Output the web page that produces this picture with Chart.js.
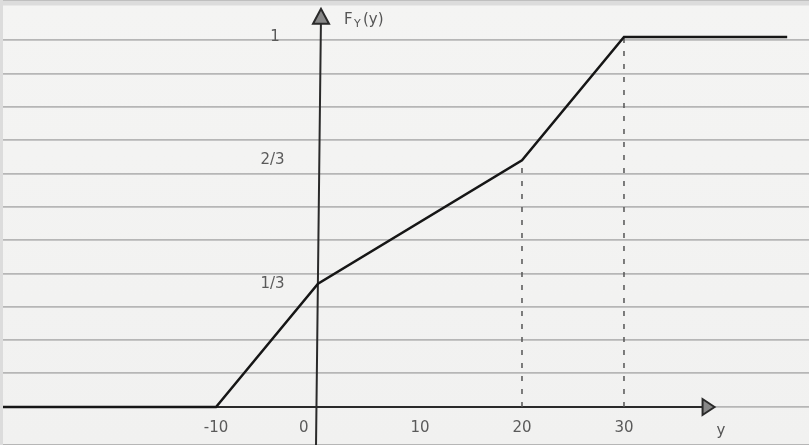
<!DOCTYPE html>
<html>
<head>
<meta charset="utf-8">
<script src="https://cdn.jsdelivr.net/npm/chart.js@4/dist/chart.umd.min.js"></script>
<style>
  html, body { margin: 0; padding: 0; }
  body { background: #f2f2f1; }
  #wrap { width: 809px; height: 445px; position: relative;
          background: linear-gradient(180deg, #dcdcdc 0px, #dcdcdc 5px, #f4f4f3 6px, #f1f1f0 445px); }
  #wrap::before { content: ''; position: absolute; left: 0; top: 0; bottom: 0; width: 3px; background: #dcdcdc; }
</style>
</head>
<body>
<div id="wrap"><canvas id="cdf"></canvas></div>
<script>
// values
const cdfX = [-31, -10, 0, 20, 30, 46];
const cdfY = [0, 0, 1/3, 2/3, 1, 1];
const dashX = [20, 30];
const dashTop = [2/3, 1];
const xTicks = [-10, 0, 10, 20, 30];
const xTickLabels = ['-10', '0      ', '10', '20', '30'];
const yTicks = [1/3, 2/3, 1];
const yTickLabels = ['1/3       ', '2/3       ', '1        '];

// where the hand drawn axes stop (arrow heads)
const xAxisEnd = 37.9;
const yAxisEnd = 1.06;

const pts = cdfX.map((x, i) => ({x: x, y: cdfY[i]}));
const dashSets = dashX.map((x, i) => ({
  data: [{x: x, y: 0}, {x: x, y: dashTop[i]}],
  yAxisID: 'y',
  borderColor: '#555',
  borderWidth: 1.5,
  borderDash: [5, 8],
  pointRadius: 0
}));

const noPad = s => { s.paddingTop = 0; s.paddingBottom = 0; s.paddingLeft = 0; s.paddingRight = 0; };

const handAxes = {
  id: 'handAxes',
  beforeDatasetsDraw(chart) {
    const ctx = chart.ctx, sx = chart.scales.x, sy = chart.scales.y;
    const x0 = sx.getPixelForValue(0), y0 = sy.getPixelForValue(0);
    const xe = sx.getPixelForValue(xAxisEnd), ye = sy.getPixelForValue(yAxisEnd);
    ctx.save();
    ctx.strokeStyle = '#2a2a2a';
    ctx.lineWidth = 2;
    ctx.beginPath();
    ctx.moveTo(chart.chartArea.left, y0);
    ctx.lineTo(xe, y0);
    ctx.moveTo(x0 - 2, chart.chartArea.bottom);
    ctx.lineTo(x0 + 3, ye);
    ctx.stroke();
    // arrow heads
    ctx.fillStyle = '#888';
    ctx.beginPath();
    ctx.moveTo(xe + 10, y0);
    ctx.lineTo(xe - 2, y0 - 8);
    ctx.lineTo(xe - 2, y0 + 8);
    ctx.closePath();
    ctx.fill(); ctx.stroke();
    ctx.beginPath();
    ctx.moveTo(x0 + 3, ye - 6);
    ctx.lineTo(x0 - 5, ye + 9);
    ctx.lineTo(x0 + 11, ye + 9);
    ctx.closePath();
    ctx.fill(); ctx.stroke();
    // axis names
    ctx.fillStyle = '#555';
    ctx.font = '15px "DejaVu Sans"';
    ctx.textBaseline = 'middle';
    ctx.fillText('F', x0 + 26, ye + 5);
    ctx.font = '11px "DejaVu Sans"';
    ctx.fillText('Y', x0 + 36, ye + 9);
    ctx.font = '15px "DejaVu Sans"';
    ctx.fillText('(y)', x0 + 45, ye + 5);
    ctx.fillText('y', xe + 12, y0 + 24);
    ctx.restore();
  }
};

new Chart(document.getElementById('cdf'), {
  type: 'line',
  data: {
    datasets: [{
      data: pts,
      yAxisID: 'y',
      borderColor: '#161616',
      borderWidth: 2.5,
      pointRadius: 0,
      tension: 0
    }].concat(dashSets)
  },
  options: {
    responsive: true,
    maintainAspectRatio: false,
    animation: false,
    layout: { padding: 0 },
    plugins: { legend: { display: false }, tooltip: { enabled: false } },
    scales: {
      x: {
        type: 'linear',
        position: { y: 0 },
        min: -31.18,
        max: 48.14,
        afterFit: noPad,
        afterBuildTicks: s => { s.ticks = xTicks.map(v => ({value: v})); },
        ticks: {
          callback: (v) => xTickLabels[xTicks.indexOf(v)],
          color: '#5a5a5a',
          font: { size: 15, family: 'DejaVu Sans' },
          padding: 4,
          maxRotation: 0,
          autoSkip: false
        },
        grid: { display: false },
        border: { display: false }
      },
      y: {
        type: 'linear',
        position: { x: 0 },
        min: -0.1027,
        max: 1.1,
        afterFit: noPad,
        afterBuildTicks: s => { s.ticks = yTicks.map(v => ({value: v})); },
        ticks: {
          callback: (v) => yTickLabels[yTicks.indexOf(v)],
          color: '#5a5a5a',
          font: { size: 15, family: 'DejaVu Sans' },
          autoSkip: false
        },
        grid: { display: false },
        border: { display: false }
      },
      paper: {
        type: 'linear',
        axis: 'y',
        position: { x: 0 },
        min: -0.15,
        max: 13.21,
        afterFit: noPad,
        ticks: { display: false, stepSize: 1 },
        grid: { color: '#b6b6b6', lineWidth: 1.8, drawTicks: false },
        border: { display: false }
      }
    }
  },
  plugins: [handAxes]
});
</script>
</body>
</html>
